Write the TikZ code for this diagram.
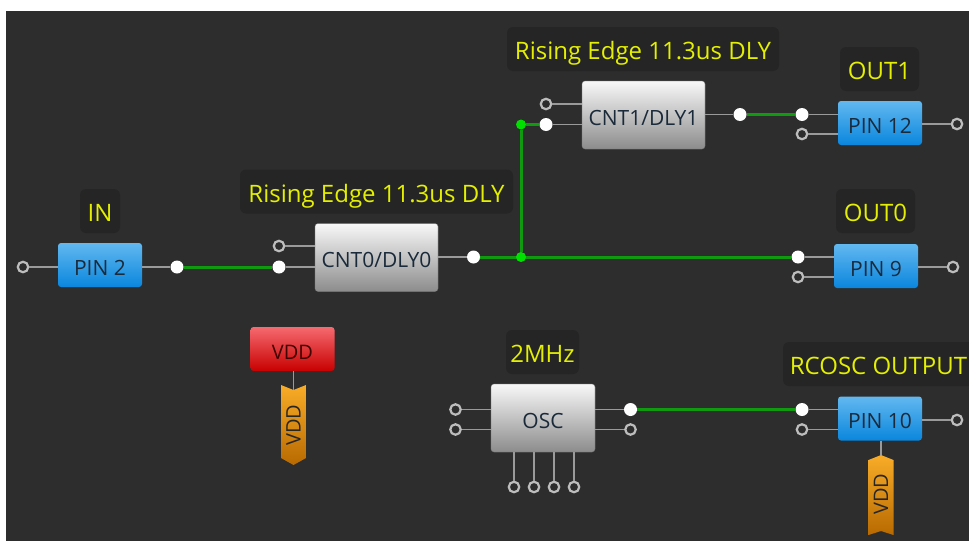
\documentclass[tikz,border=0pt]{standalone}
\usepackage{fontspec}
\setmainfont{Open Sans}
\definecolor{bgc}{HTML}{2D2D2D}
\definecolor{labbg}{HTML}{252525}
\definecolor{labtxt}{HTML}{E4F000}
\definecolor{wire}{HTML}{0F9A0F}
\definecolor{jun}{HTML}{00E000}
\definecolor{stub}{HTML}{9A9A9A}
\definecolor{ringc}{HTML}{BDBDBD}
\definecolor{ink}{HTML}{1A2A3A}
\tikzset{
 block/.style={minimum width=#1,inner sep=0pt,rounded corners=3pt,text=ink,text height=20.5pt,text depth=0pt,font=\fontsize{21}{23}\selectfont},
 pinbox/.style={block=84pt,minimum height=44pt,top color={rgb,255:red,98;green,184;blue,240},bottom color={rgb,255:red,10;green,134;blue,221}},
 greybox/.style={block=#1,minimum height=68pt,top color={rgb,255:red,248;green,248;blue,248},bottom color={rgb,255:red,140;green,140;blue,140},draw={rgb,255:red,120;green,120;blue,120},draw opacity=.5,line width=.6pt},
 redbox/.style={block=84pt,minimum height=44pt,font=\fontsize{20}{22}\selectfont,text=black!75!red,top color={rgb,255:red,245;green,106;blue,112},bottom color={rgb,255:red,200;green,0;blue,0}},
 lab/.style={fill=labbg,rounded corners=6pt,text=labtxt,inner sep=0pt,minimum height=44pt,text height=21pt,text depth=0pt,font=\fontsize{24}{26}\selectfont},
 port/.style={circle,draw=ringc,line width=2.2pt,fill=bgc,minimum size=10.5pt,inner sep=0pt},
 on/.style={circle,fill=white,minimum size=13pt,inner sep=0pt},
 stubline/.style={draw=stub,line width=1.4pt},
 gw/.style={draw=wire,line width=3pt},
 tag/.style={top color={rgb,255:red,248;green,172;blue,40},bottom color={rgb,255:red,184;green,106;blue,0}},
 tagtext/.style={rotate=90,inner sep=0pt,text=black!85,font=\fontsize{20}{22}\selectfont}
}
\begin{document}
\begin{tikzpicture}[x=1pt,y=-1pt]
\useasboundingbox[fill=white] (0,0) rectangle (969,541);
\fill[bgc] (6,11) rectangle (969,541);
% labels
\node[lab,minimum width=40pt] (lIN) at (100,211) {IN};
\node[lab,minimum width=273pt] (lC0) at (376.5,191.5) {Rising Edge 11.3us DLY};
\node[lab,minimum width=272pt] (lC1) at (643,49) {Rising Edge 11.3us DLY};
\node[lab,minimum width=79pt] (lO1) at (879.5,69) {OUT1};
\node[lab,minimum width=79pt] (lO0) at (875.5,211) {OUT0};
\node[lab,minimum width=73pt] (lOsc) at (542.5,352) {2MHz};
\begin{scope}
\clip (0,0) rectangle (969,541);
\fill[labbg,rounded corners=6pt] (783,342) rectangle (985,386);
\end{scope}
\node[text=labtxt,inner sep=0pt,text height=20.5pt,text depth=0pt,font=\fontsize{24}{26}\selectfont] (lRc) at (878.5,364) {RCOSC OUTPUT};
% blocks
\node[pinbox] (pin2) at (100,265) {PIN 2};
\node[greybox=123pt] (cnt0) at (376.5,257.5) {CNT0/DLY0};
\node[greybox=123pt] (cnt1) at (643.5,115) {CNT1/DLY1};
\node[pinbox] (pin12) at (880,123) {PIN 12};
\node[pinbox] (pin9) at (876,266) {PIN 9};
\node[pinbox] (pin10) at (880,418.5) {PIN 10};
\node[greybox=104pt] (osc) at (543,418) {OSC};
\node[redbox] (vdd) at (292.5,349) {VDD};
% ribbons
\draw[tag,draw=none] (281,385) -- (293.5,390) -- (306,385) -- (306,458) -- (293.5,465) -- (281,458) -- cycle;
\node[tagtext] (t1) at (293.5,425) {VDD};
\draw[tag,draw=none] (868.5,460) -- (881,455) -- (893.5,460) -- (893.5,535) -- (881,531) -- (868.5,535) -- cycle;
\node[tagtext] (t2) at (881,494) {VDD};
% ports
\node[port] (a1) at (23,267) {};
\node[on] (a2) at (177,267) {};
\node[port] (b1) at (279,246) {};
\node[on] (b2) at (279,267) {};
\node[on] (b3) at (473.5,257) {};
\node[port] (c1) at (546,104) {};
\node[on] (c2) at (546,124.5) {};
\node[on] (c3) at (740,114.5) {};
\node[on] (d1) at (802,114.5) {};
\node[port] (d2) at (802,134) {};
\node[port] (d3) at (957,124) {};
\node[on] (e1) at (798,257) {};
\node[port] (e2) at (798,277) {};
\node[port] (e3) at (953,267) {};
\node[port] (f1) at (455.5,409.5) {};
\node[port] (f2) at (455.5,429.5) {};
\node[on] (f3) at (630.5,409.5) {};
\node[port] (f4) at (630.5,429.5) {};
\node[port] (f5) at (514,487) {};
\node[port] (f6) at (534,487) {};
\node[port] (f7) at (554,487) {};
\node[port] (f8) at (574,487) {};
\node[on] (g1) at (802,409.5) {};
\node[port] (g2) at (802,429.5) {};
\node[port] (g3) at (957,420) {};
\coordinate (t1top) at (293.5,390);
\coordinate (t2top) at (881,455);
% stubs
\draw[stubline] (a1) -- (pin2.west |- a1);
\draw[stubline] (a2) -- (pin2.east |- a2);
\draw[stubline] (b1) -- (cnt0.west |- b1);
\draw[stubline] (b2) -- (cnt0.west |- b2);
\draw[stubline] (b3) -- (cnt0.east |- b3);
\draw[stubline] (c1) -- (cnt1.west |- c1);
\draw[stubline] (c2) -- (cnt1.west |- c2);
\draw[stubline] (c3) -- (cnt1.east |- c3);
\draw[stubline] (d1) -- (pin12.west |- d1);
\draw[stubline] (d2) -- (pin12.west |- d2);
\draw[stubline] (d3) -- (pin12.east |- d3);
\draw[stubline] (e1) -- (pin9.west |- e1);
\draw[stubline] (e2) -- (pin9.west |- e2);
\draw[stubline] (e3) -- (pin9.east |- e3);
\draw[stubline] (f1) -- (osc.west |- f1);
\draw[stubline] (f2) -- (osc.west |- f2);
\draw[stubline] (f3) -- (osc.east |- f3);
\draw[stubline] (f4) -- (osc.east |- f4);
\draw[stubline] (f5) -- (osc.south -| f5);
\draw[stubline] (f6) -- (osc.south -| f6);
\draw[stubline] (f7) -- (osc.south -| f7);
\draw[stubline] (f8) -- (osc.south -| f8);
\draw[stubline] (g1) -- (pin10.west |- g1);
\draw[stubline] (g2) -- (pin10.west |- g2);
\draw[stubline] (g3) -- (pin10.east |- g3);
\draw[stubline] (vdd.south -| t1top) -- (t1top);
\draw[stubline] (pin10.south -| t2top) -- (t2top);
% wires
\draw[gw] (a2) -- (b2);
\draw[gw] (b3) -- (e1);
\draw[gw] (c3) -- (d1);
\draw[gw] (f3) -- (g1);
\node[circle,fill=jun,minimum size=10pt,inner sep=0pt] (j1) at (521,257) {};
\node[circle,fill=jun,minimum size=10pt,inner sep=0pt] (j2) at (521,124.5) {};
\draw[gw] (j1) -- (j2);
\draw[gw] (j2) -- (c2);
\end{tikzpicture}
\end{document}
